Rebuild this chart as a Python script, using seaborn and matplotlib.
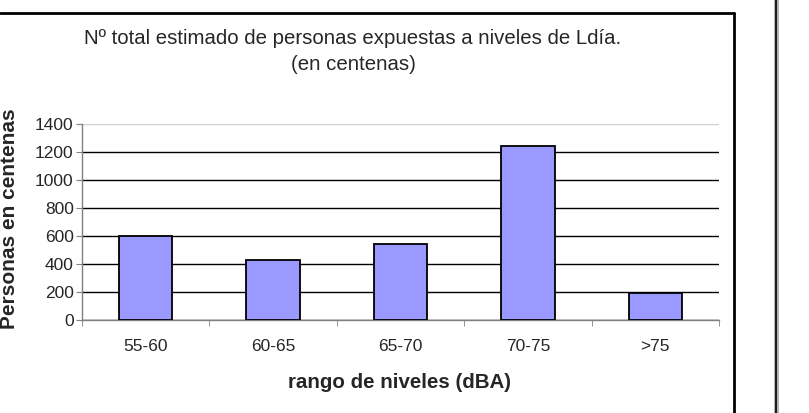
import matplotlib
matplotlib.use("Agg")
import matplotlib.pyplot as plt
from matplotlib.lines import Line2D
from matplotlib.ticker import FixedLocator
import pandas as pd
import seaborn as sns

rangos = ["55-60", "60-65", "65-70", "70-75", ">75"]
personas = [600, 425, 540, 1240, 190]
y_ticks = [0, 200, 400, 600, 800, 1000, 1200, 1400]

sns.set_style("white")
plt.rcParams["font.family"] = ["Liberation Sans", "DejaVu Sans"]

df = pd.DataFrame({"rango": rangos, "personas": personas})

fig = plt.figure(figsize=(8.09, 4.13), dpi=100)
ax = fig.add_axes([0.1014, 0.2252, 0.7874, 0.4746])

sns.barplot(data=df, x="rango", y="personas", color="#9999FF", saturation=1,
            width=0.42, edgecolor="black", linewidth=1.3, ax=ax, zorder=3)

ax.set_ylim(0, 1400)
ax.set_xlim(-0.5, len(rangos) - 0.5)
ax.set_yticks(y_ticks)
ax.yaxis.grid(True, color="black", linewidth=1)
ax.set_axisbelow(True)
grid = ax.get_ygridlines()
grid[-1].set_color("#d0d0d0")

for side in ["top", "right"]:
    ax.spines[side].set_visible(False)
for side in ["left", "bottom"]:
    ax.spines[side].set_color("#808080")
    ax.spines[side].set_linewidth(1)

ax.tick_params(axis="y", direction="out", length=4, color="#808080",
               labelsize=12.5, pad=2, left=True)
ax.tick_params(axis="x", which="major", length=0, labelsize=12.5, pad=14)
ax.xaxis.set_minor_locator(FixedLocator([i - 0.5 for i in range(len(rangos) + 1)]))
ax.tick_params(axis="x", which="minor", direction="out", length=4,
               color="#808080", bottom=True)

ax.set_xlabel("")
ax.set_ylabel("")
fig.text(400 / 809, 1 - 383 / 413, "rango de niveles (dBA)", ha="center",
         va="center", fontsize=14.8, fontweight="bold")
fig.text(10 / 809, 1 - 219 / 413, "Personas en centenas", ha="center",
         va="center", rotation=90, fontsize=15, fontweight="bold")
fig.text(353 / 809, 1 - 38 / 413,
         "Nº total estimado de personas expuestas a niveles de Ldía.",
         ha="center", va="center", fontsize=14.7)
fig.text(353 / 809, 1 - 64 / 413, "(en centenas)", ha="center",
         va="center", fontsize=14.7)

# marco del gráfico
fig.add_artist(Line2D([0, 734 / 809], [1 - 13 / 413] * 2,
                      transform=fig.transFigure, color="black", linewidth=2))
fig.add_artist(Line2D([734 / 809] * 2, [0, 1 - 13 / 413],
                      transform=fig.transFigure, color="black", linewidth=2))
fig.add_artist(Line2D([776 / 809] * 2, [0, 1],
                      transform=fig.transFigure, color="#b0b0b0", linewidth=3.5))
fig.add_artist(Line2D([776 / 809] * 2, [0, 1],
                      transform=fig.transFigure, color="black", linewidth=1.2))

fig.savefig("out.png", dpi=100)
